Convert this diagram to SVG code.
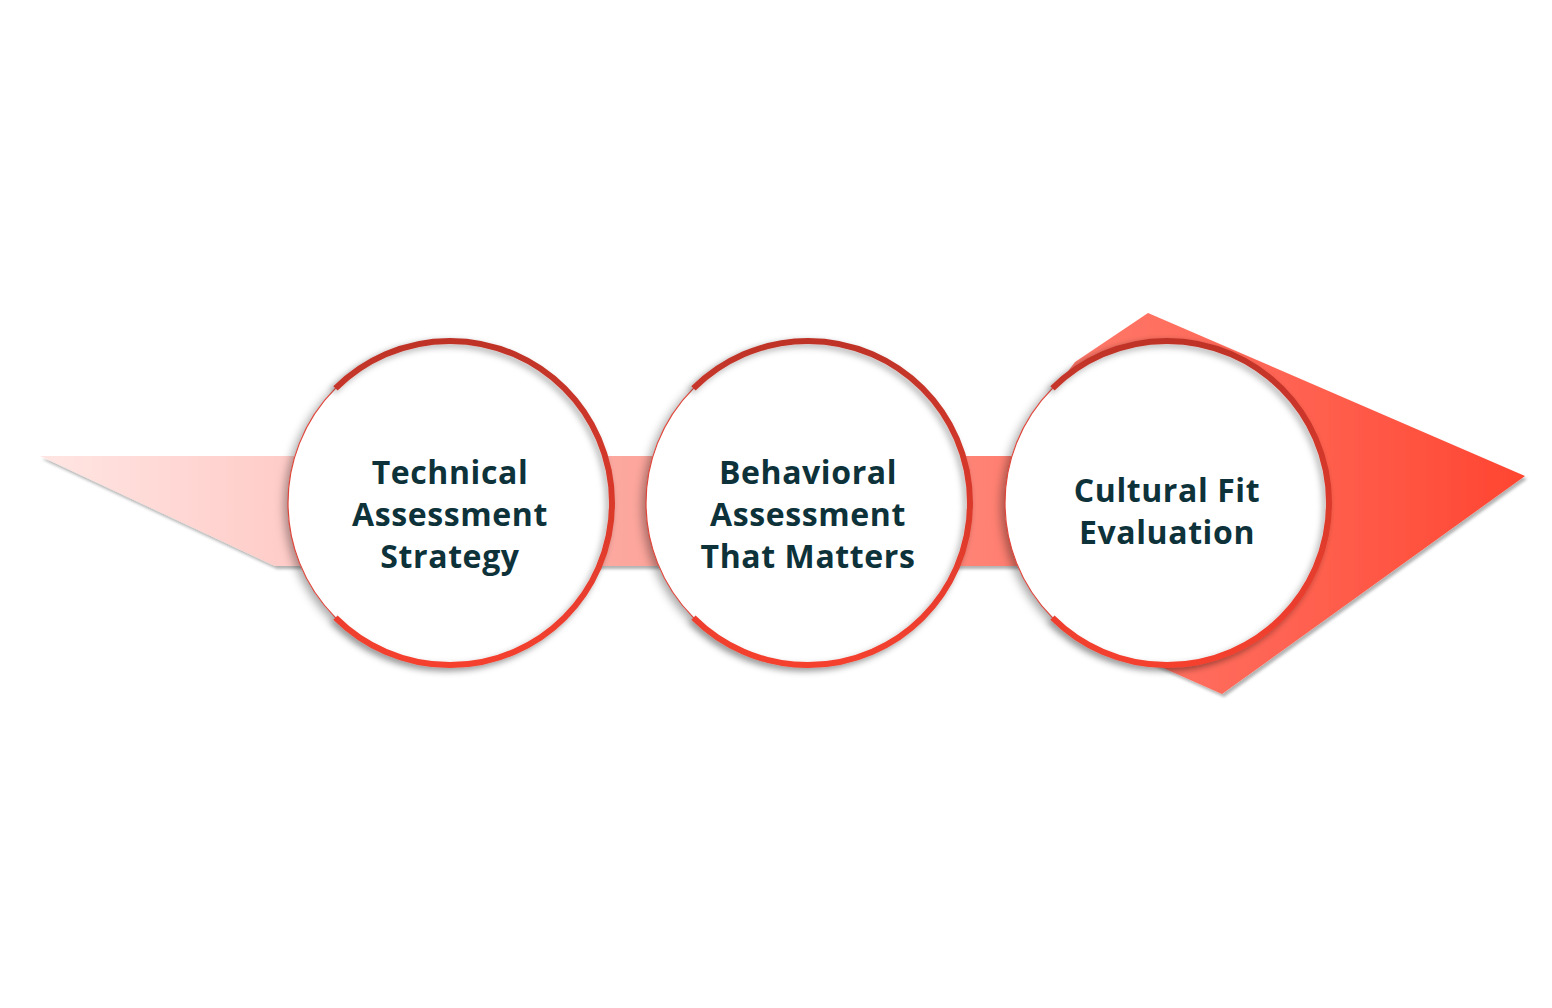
<svg xmlns="http://www.w3.org/2000/svg" width="1552" height="1008" viewBox="0 0 1552 1008">
  <defs>
    <linearGradient id="arrowGrad" x1="40" y1="0" x2="1525" y2="0" gradientUnits="userSpaceOnUse">
      <stop offset="0" stop-color="#ffe6e3"/>
      <stop offset="0.16" stop-color="#ffcdc9"/>
      <stop offset="0.4" stop-color="#fca69d"/>
      <stop offset="0.64" stop-color="#ff8173"/>
      <stop offset="0.85" stop-color="#ff6150"/>
      <stop offset="1" stop-color="#ff4531"/>
    </linearGradient>
    <linearGradient id="ringGrad" x1="0" y1="0" x2="0" y2="1">
      <stop offset="0" stop-color="#bf3328"/>
      <stop offset="1" stop-color="#f5402f"/>
    </linearGradient>
    <filter id="arrowShadow" x="-5%" y="-20%" width="110%" height="140%">
      <feDropShadow dx="2" dy="3" stdDeviation="1.5" flood-color="#000" flood-opacity="0.3"/>
    </filter>
    <filter id="discShadow" x="-20%" y="-20%" width="140%" height="140%">
      <feDropShadow dx="-4" dy="3" stdDeviation="5" flood-color="#000" flood-opacity="0.35"/>
    </filter>
    <filter id="ringShadow" x="-20%" y="-20%" width="140%" height="140%">
      <feDropShadow dx="-3" dy="3" stdDeviation="3" flood-color="#000" flood-opacity="0.3"/>
    </filter>
  </defs>
  <style>
    .disc { fill: #ffffff; filter: url(#discShadow); }
    .thin { fill: none; stroke: #e0453a; stroke-width: 1.2; }
    .thick { fill: none; stroke: url(#ringGrad); stroke-width: 6; stroke-linecap: butt; filter: url(#ringShadow); }
    .label { font-family: "Open Sans", "Liberation Sans", sans-serif; font-weight: 700; font-size: 32px; fill: #0e323a; text-anchor: middle; letter-spacing: 0.6px; }
  </style>
  <rect width="1552" height="1008" fill="#ffffff"/>

  <g id="connectors">
    <polygon id="arrow" filter="url(#arrowShadow)" fill="url(#arrowGrad)"
      points="40,456 1020,456 1050,395 1075,362 1148,313 1525,476 1222,694 1100,640 1030,566 275,566"/>
  </g>

  <g id="node1">
    <circle class="disc" cx="450" cy="503" r="162"/>
    <circle class="thin" cx="450" cy="503" r="162"/>
    <path class="thick" d="M 335.45 388.45 A 162 162 0 1 1 335.45 617.55"/>
    <text class="label" x="450" y="484">Technical</text>
    <text class="label" x="450" y="526">Assessment</text>
    <text class="label" x="450" y="568">Strategy</text>
  </g>

  <g id="node2">
    <circle class="disc" cx="808" cy="503" r="162"/>
    <circle class="thin" cx="808" cy="503" r="162"/>
    <path class="thick" d="M 693.45 388.45 A 162 162 0 1 1 693.45 617.55"/>
    <text class="label" x="808" y="484">Behavioral</text>
    <text class="label" x="808" y="526">Assessment</text>
    <text class="label" x="808" y="568">That Matters</text>
  </g>

  <g id="node3">
    <circle class="disc" cx="1167" cy="503" r="162"/>
    <circle class="thin" cx="1167" cy="503" r="162"/>
    <path class="thick" d="M 1052.45 388.45 A 162 162 0 1 1 1052.45 617.55"/>
    <text class="label" x="1167" y="502">Cultural Fit</text>
    <text class="label" x="1167" y="544">Evaluation</text>
  </g>
</svg>
